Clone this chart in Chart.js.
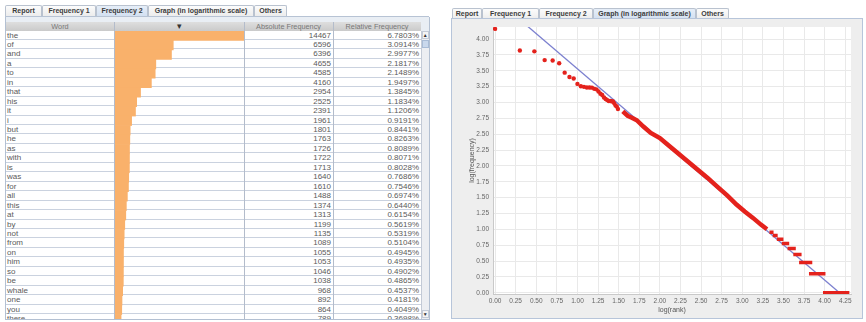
<!DOCTYPE html>
<html>
<head>
<meta charset="utf-8">
<script src="https://cdn.jsdelivr.net/npm/chart.js@4.4.0/dist/chart.umd.min.js"></script>
<style>
  body { margin: 0; width: 866px; height: 322px; background: #fff; position: relative; overflow: hidden;
         font-family: "Liberation Sans", Arial, sans-serif; }
  .abs { position: absolute; box-sizing: border-box; }
  .tab { position: absolute; box-sizing: border-box; height: 11px; border: 1px solid #b9c2cf; border-bottom: none;
         background: linear-gradient(#fcfcfc, #ececec); font-size: 7px; font-weight: bold; color: #3c3c3c;
         line-height: 10px; text-align: center; white-space: nowrap; border-radius: 2px 2px 0 0; }
  .tab.on { background: linear-gradient(#e6eef8, #d3e0f1); }
  .hdr { position: absolute; top: 0; height: 9px; font-size: 7.3px; color: #777; line-height: 9px; text-align: center; }
  .row { position: absolute; left: 0; width: 415px; background: #fff; border-bottom: 1px solid #cad2df; box-sizing: border-box; }
  .cell { position: absolute; top: 0; font-size: 8px; color: #5a5a5a; white-space: nowrap; }
  .vline { position: absolute; width: 1px; background: #b3bccb; }
</style>
</head>
<body>

<!-- word frequency table -->
<div class="abs" style="left:5px;top:16px;width:424px;height:1px;background:#b7c3d4"></div>
<div class="abs" style="left:5px;top:17px;width:425px;height:303px;background:#e9eef4;border:1px solid #b3c0d2;border-top:none"></div>
<div id="tabsL"></div>
<div class="abs" id="header" style="left:6px;top:21.5px;width:415px;height:9px;background:linear-gradient(#dedede,#cacaca)"></div>
<div class="abs" id="rows" style="left:6px;top:30.5px;width:415px;height:288.5px;overflow:hidden;background:#fff">
  <canvas id="bars" width="130" height="293" style="position:absolute;left:108px;top:0"></canvas>
</div>
<div class="abs" style="left:421px;top:30.5px;width:8px;height:288.5px;background:#eceef2;border-left:1px solid #c3cad6"></div>
<div class="abs" style="left:421.5px;top:31px;width:7.5px;height:8px;background:#f4f4f4;border:1px solid #c3cad6;font-size:5px;line-height:7px;text-align:center;color:#333">&#9650;</div>
<div class="abs" style="left:421.5px;top:40px;width:7.5px;height:8px;background:#c9d8ec;border:1px solid #a9bcd6"></div>
<div class="abs" style="left:421.5px;top:310px;width:7.5px;height:8px;background:#f4f4f4;border:1px solid #c3cad6;font-size:5px;line-height:7px;text-align:center;color:#333">&#9660;</div>

<!-- log-log plot -->
<div id="tabsR"></div>
<div class="abs" style="left:451px;top:18px;width:412px;height:301px;background:#eeeeee;border:1px solid #b7c5da"></div>
<canvas id="zipf" width="410" height="298" style="position:absolute;left:452px;top:19px"></canvas>

<script>
// word counts, most frequent first
var words = ["the", "of", "and", "a", "to", "in", "that", "his", "it", "i",
             "but", "he", "as", "with", "is", "was", "for", "all", "this", "at",
             "by", "not", "from", "on", "him", "so", "be", "whale", "one", "you", "there"];
var absFreq = [14467, 6596, 6396, 4655, 4585, 4160, 2954, 2525, 2391, 1961,
               1801, 1763, 1726, 1722, 1713, 1640, 1610, 1488, 1374, 1313,
               1199, 1135, 1089, 1055, 1053, 1046, 1038, 968, 892, 864, 789];
var relFreq = [6.7803, 3.0914, 2.9977, 2.1817, 2.1489, 1.9497, 1.3845, 1.1834, 1.1206, 0.9191,
               0.8441, 0.8263, 0.8089, 0.8071, 0.8028, 0.7686, 0.7546, 0.6974, 0.6440, 0.6154,
               0.5619, 0.5319, 0.5104, 0.4945, 0.4935, 0.4902, 0.4865, 0.4537, 0.4181, 0.4049, 0.3698];

// rest of the rank/frequency curve, in log10 units
var tailLogRank = [1.55, 1.61, 1.66, 1.72, 1.80, 1.89, 2.00, 2.10, 2.22, 2.34,
                   2.46, 2.58, 2.70, 2.82, 2.93, 3.03, 3.13, 3.23, 3.30];
var tailLogFreq = [2.86, 2.79, 2.76, 2.72, 2.62, 2.52, 2.44, 2.33, 2.20, 2.07,
                   1.94, 1.81, 1.67, 1.53, 1.39, 1.28, 1.18, 1.07, 1.00];
// rare words share a count, so they form flat runs
var stepLogFreq = [0.954, 0.903, 0.845, 0.778, 0.699, 0.602, 0.477, 0.301, 0.000];
var stepFrom    = [3.33, 3.37, 3.42, 3.48, 3.55, 3.62, 3.69, 3.81, 3.98];
var stepTo      = [3.38, 3.43, 3.50, 3.57, 3.65, 3.72, 3.85, 4.01, 4.30];

// least squares fit
var fitIntercept = 4.64;
var fitSlope = -1.11;

var xTicks = { min: -0.025, max: 4.32, step: 0.25 };
var yTicks = { min: -0.02, max: 4.19, step: 0.25 };

var tabNames = ["Report", "Frequency 1", "Frequency 2", "Graph (in logarithmic scale)", "Others"];

function makeTabs(id, top, edges, active) {
	var box = document.getElementById(id);
	for (var i = 0; i < tabNames.length; i++) {
		var t = document.createElement("div");
		t.className = "tab" + (i == active ? " on" : "");
		t.style.left = edges[i] + "px";
		t.style.top = top + "px";
		t.style.width = (edges[i + 1] - edges[i]) + "px";
		t.textContent = tabNames[i];
		box.appendChild(t);
	}
}
makeTabs("tabsL", 5, [5, 42, 96, 148, 254, 287], 2);
makeTabs("tabsR", 7.5, [452, 482, 539, 593, 696, 729], 3);

/* table header and rows */
var cols = [0, 108, 238, 327, 415];
var hdr = document.getElementById("header");
var hdrText = ["Word", "\u25BE", "Absolute Frequency", "Relative Frequency"];
for (var c = 0; c < 4; c++) {
	var h = document.createElement("div");
	h.className = "hdr";
	h.style.left = cols[c] + "px";
	h.style.width = (cols[c + 1] - cols[c]) + "px";
	if (c == 1) { h.style.color = "#333"; h.style.fontSize = "9px"; }
	h.textContent = hdrText[c];
	hdr.appendChild(h);
}

var rowsBox = document.getElementById("rows");
var rowH = 293 / words.length;
for (var r = 0; r < words.length; r++) {
	var row = document.createElement("div");
	row.className = "row";
	row.style.top = (r * rowH) + "px";
	row.style.height = rowH + "px";
	var cells = [
		{ txt: words[r], left: 1, width: 100, align: "left" },
		{ txt: String(absFreq[r]), left: cols[2], width: cols[3] - cols[2] - 2, align: "right" },
		{ txt: relFreq[r].toFixed(4) + "%", left: cols[3], width: cols[4] - cols[3] - 2, align: "right" }
	];
	for (var k = 0; k < cells.length; k++) {
		var d = document.createElement("div");
		d.className = "cell";
		d.style.left = cells[k].left + "px";
		d.style.width = cells[k].width + "px";
		d.style.textAlign = cells[k].align;
		d.style.lineHeight = rowH + "px";
		d.textContent = cells[k].txt;
		row.appendChild(d);
	}
	rowsBox.insertBefore(row, document.getElementById("bars"));
}
for (var v = 1; v < 4; v++) {
	var ln = document.createElement("div");
	ln.className = "vline";
	ln.style.left = (6 + cols[v]) + "px";
	ln.style.top = "21.5px";
	ln.style.height = "297.5px";
	document.body.appendChild(ln);
}

/* orange bars in the second column */
new Chart(document.getElementById("bars").getContext("2d"), {
	type: "bar",
	data: {
		labels: words,
		datasets: [{
			data: absFreq,
			backgroundColor: "#f9b16b",
			borderWidth: 0,
			barPercentage: 1,
			categoryPercentage: 1
		}]
	},
	options: {
		indexAxis: "y",
		responsive: false,
		animation: false,
		layout: { padding: 0 },
		plugins: { legend: { display: false }, tooltip: { enabled: false } },
		scales: {
			x: { display: false, min: 0, max: Math.max.apply(null, absFreq) },
			y: { display: false }
		}
	}
});

/* log-log plot */
var plotBg = {
	id: "plotBg",
	beforeDraw: function(chart) {
		var ctx = chart.ctx, a = chart.chartArea;
		ctx.save();
		ctx.fillStyle = "#eeeeee";
		ctx.fillRect(0, 0, chart.width, chart.height);
		ctx.fillStyle = "#ffffff";
		ctx.fillRect(a.left, a.top, a.right - a.left, a.bottom - a.top);
		ctx.restore();
	}
};

function quarterTicks(scale) {
	scale.ticks = scale.ticks.filter(function(t) {
		return Math.abs(t.value * 4 - Math.round(t.value * 4)) < 1e-6;
	});
}

var topPoints = absFreq.map(function(f, i) {
	return { x: Math.log10(i + 1), y: Math.log10(f) };
});
var tailPoints = tailLogRank.map(function(x, i) {
	return { x: x, y: tailLogFreq[i] };
});
var stepPoints = [];
for (var s = 0; s < stepLogFreq.length; s++) {
	stepPoints.push({ x: stepFrom[s], y: stepLogFreq[s] });
	stepPoints.push({ x: stepTo[s], y: stepLogFreq[s] });
	stepPoints.push({ x: stepTo[s], y: null });
}
var fitPoints = [
	{ x: 0, y: fitIntercept },
	{ x: xTicks.max, y: fitIntercept + fitSlope * xTicks.max }
];

var red = "#e4221c";
var tickFont = { family: "Liberation Sans", size: 6.5 };

new Chart(document.getElementById("zipf").getContext("2d"), {
	type: "scatter",
	data: {
		datasets: [
			{ data: topPoints, pointRadius: 2.2, pointBackgroundColor: red, pointBorderWidth: 0, order: 1 },
			{ data: tailPoints, showLine: true, borderColor: red, borderWidth: 4.5, pointRadius: 0, order: 1 },
			{ data: stepPoints, showLine: true, borderColor: red, borderWidth: 3.5, pointRadius: 0, spanGaps: false, order: 1 },
			{ data: fitPoints, showLine: true, borderColor: "#7c80cf", borderWidth: 1.3, pointRadius: 0, order: 2 }
		]
	},
	options: {
		responsive: false,
		animation: false,
		layout: { padding: { top: 8, right: 11, left: 0, bottom: 0 } },
		plugins: { legend: { display: false }, tooltip: { enabled: false } },
		scales: {
			x: {
				type: "linear",
				min: xTicks.min, max: xTicks.max,
				afterFit: function(sc) { sc.height = 23; },
				afterBuildTicks: quarterTicks,
				grid: { color: "#e9e9e9", drawTicks: false },
				border: { color: "#c9c9c9" },
				ticks: {
					stepSize: xTicks.step, includeBounds: false, autoSkip: false, maxRotation: 0,
					padding: 3, color: "#666", font: tickFont,
					callback: function(v) { return v.toFixed(2); }
				},
				title: { display: true, text: "log(rank)", color: "#555",
				         font: { family: "Liberation Sans", size: 7 }, padding: { top: 0, bottom: 2.8 } }
			},
			y: {
				type: "linear",
				min: yTicks.min, max: yTicks.max,
				afterFit: function(sc) { sc.width = 41; },
				afterBuildTicks: quarterTicks,
				grid: { color: "#e9e9e9", drawTicks: false },
				border: { color: "#c9c9c9" },
				ticks: {
					stepSize: yTicks.step, includeBounds: false, autoSkip: false,
					padding: 4, color: "#666", font: tickFont,
					callback: function(v) { return v.toFixed(2); }
				},
				title: { display: true, text: "log(frequency)", color: "#555",
				         font: { family: "Liberation Sans", size: 7 }, padding: { top: 15.5, bottom: 0 } }
			}
		}
	},
	plugins: [plotBg]
});
</script>
</body>
</html>
